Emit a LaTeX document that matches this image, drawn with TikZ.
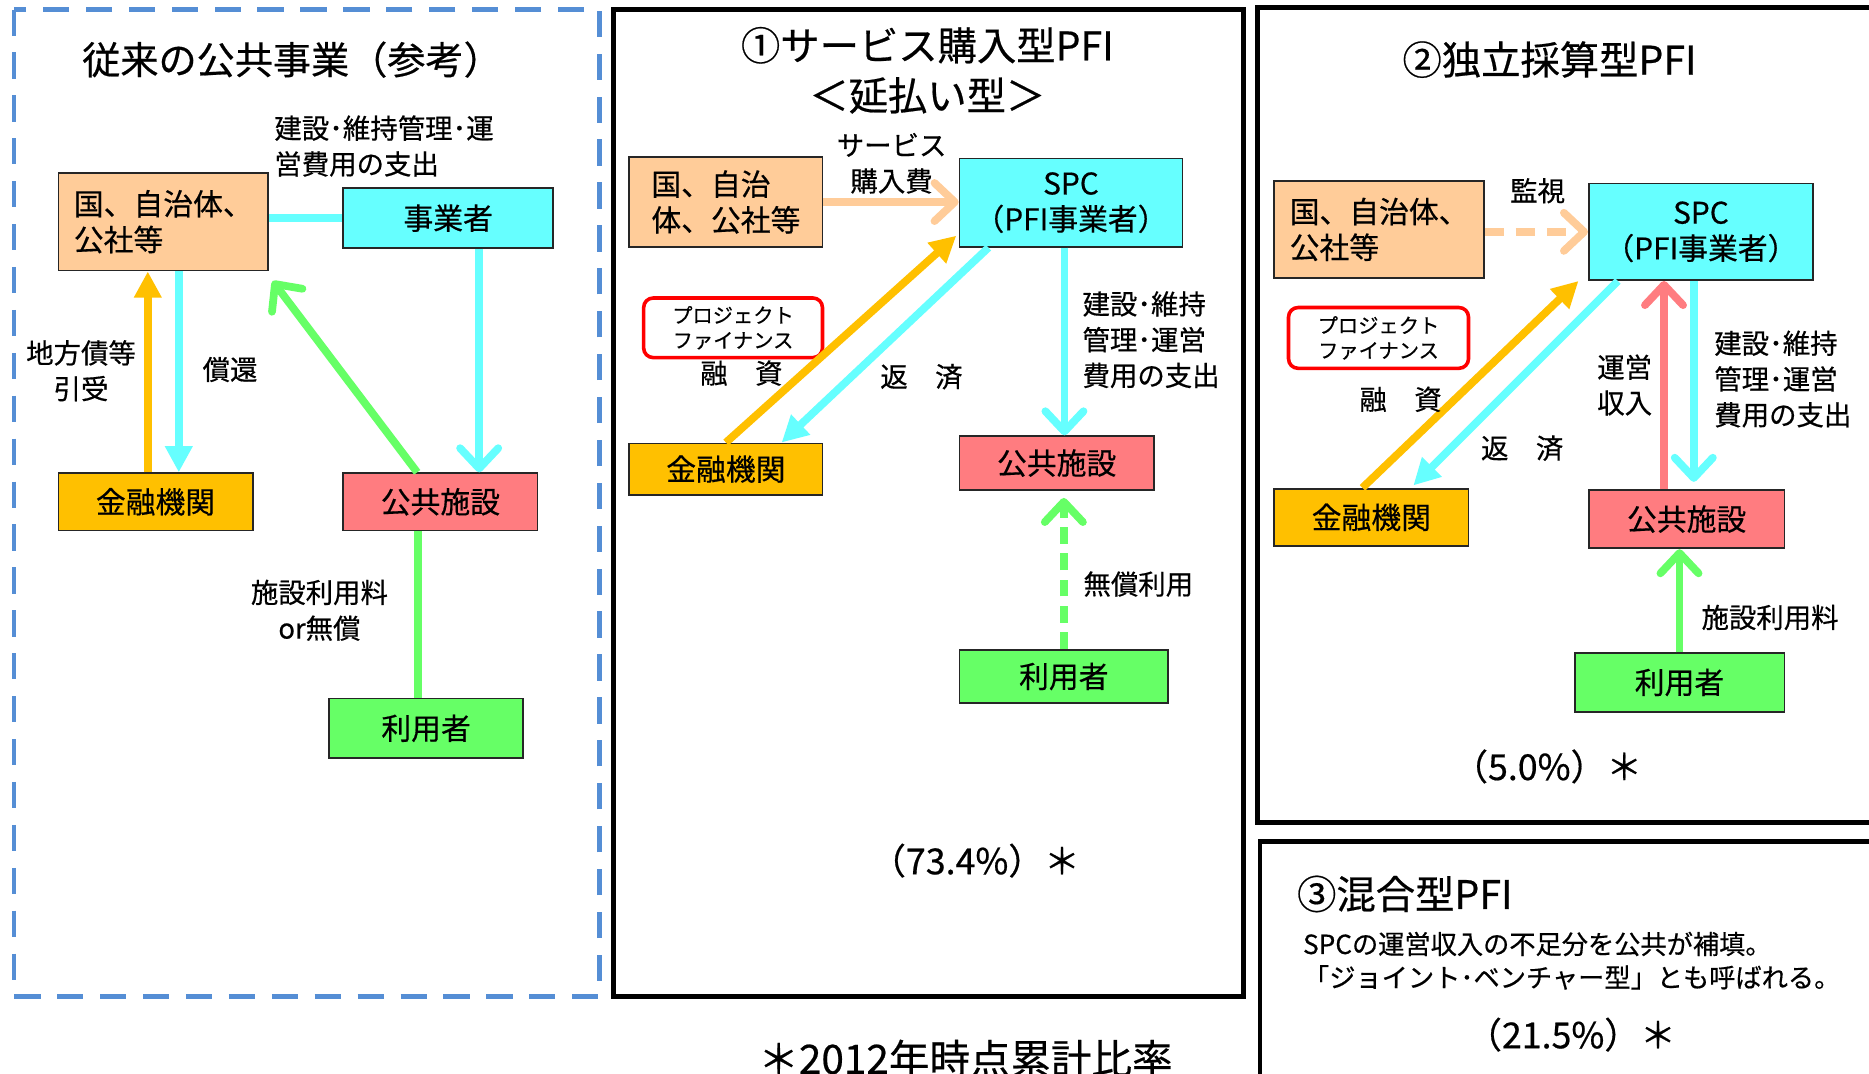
\documentclass[tikz,border=0pt]{standalone}
\usepackage{fontspec}
\setmainfont{Noto Sans CJK JP}[FakeBold=0.5]
\usetikzlibrary{arrows.meta}

\definecolor{govfill}{HTML}{FFCC99}
\definecolor{spcfill}{HTML}{66FFFF}
\definecolor{bankfill}{HTML}{FFC000}
\definecolor{facfill}{HTML}{FF7C80}
\definecolor{userfill}{HTML}{66FF66}
\definecolor{dashblue}{HTML}{558ED5}

\tikzset{
  box/.style={draw=black!85, line width=1.5pt, inner sep=0pt, font=\fontsize{25}{30}\selectfont, align=center},
  govbox/.style={box, fill=govfill, align=left},
  spcbox/.style={box, fill=spcfill},
  bankbox/.style={box, fill=bankfill},
  facbox/.style={box, fill=facfill},
  userbox/.style={box, fill=userfill},
  pfbox/.style={draw=red, line width=3pt, rounded corners=8pt, fill=white, inner sep=0pt,
    font=\fontsize{17}{21}\selectfont, align=center},
  lbl/.style={inner sep=0pt, font=\fontsize{23}{30}\selectfont, align=center},
  ttl/.style={inner sep=0pt, font=\fontsize{33}{42}\selectfont, align=center},
  pct/.style={inner sep=0pt, font=\fontsize{30}{36}\selectfont},
  frame/.style={line width=4pt},
  flow/.style={line width=6.5pt},
  solidhead/.style={-{Triangle[length=22pt,width=22pt]}},
  openhead/.style={-{Straight Barb[length=17pt,width=32pt,round]}},
}

\begin{document}
\begin{tikzpicture}[x=1pt, y=-1pt]
\useasboundingbox (0,0) rectangle (1568,901);
\clip (0,0) rectangle (1568,901);
\fill[white] (0,0) rectangle (1568,901);

% Panel 0: conventional
\draw[dashblue, line width=3.5pt, dash pattern=on 22pt off 14pt] (12,8) rectangle (503,836);
\node[ttl, font=\fontsize{32}{40}\selectfont] (title0) at (245,50) {従来の公共事業（参考）};

\node[govbox, minimum width=176pt, minimum height=82pt] (gov0) at (137,186) {国、自治体、\\公社等};
\node[spcbox, minimum width=176pt, minimum height=50pt] (biz0) at (376,183) {事業者};
\node[bankbox, minimum width=163pt, minimum height=48pt] (bank0) at (130.5,421) {金融機関};
\node[facbox, minimum width=163pt, minimum height=48pt] (fac0) at (369.5,421) {公共施設};
\node[userbox, minimum width=163pt, minimum height=50pt] (user0) at (357.5,611) {利用者};

\draw[flow, spcfill] (biz0.west -| gov0.east) -- (biz0.west);
\draw[flow, bankfill, solidhead] ([xshift=-6.5pt]bank0.north) -- ([xshift=-6.5pt]bank0.north |- gov0.south);
\draw[flow, spcfill, solidhead] ([xshift=19.5pt]bank0.north |- gov0.south) -- ([xshift=19.5pt]bank0.north);
\draw[flow, spcfill, openhead] ([xshift=26pt]biz0.south) -- ([xshift=26pt]biz0.south |- fac0.north);
\draw[flow, userfill, openhead] ([xshift=-19.5pt]fac0.north) -- ([shift={(3,8)}]gov0.south east);
\draw[flow, userfill] ([xshift=-19pt]fac0.south) -- ([xshift=-19pt]fac0.south |- user0.north);

\node[lbl, anchor=west, align=left] (cost0) at (230,122.5) {建設･維持管理･運\\営費用の支出};
\node[lbl] (bond0) at (68,311) {地方債等\\引受};
\node[lbl] (repay0) at (193,310) {償還};
\node[lbl] (fee0) at (268,512) {施設利用料\\or無償};

% Panel 1: service purchase
\draw[frame] (515,8) rectangle (1043,836);
\node[ttl] (title1) at (778,59) {①サービス購入型PFI\\＜延払い型＞};

\node[govbox, minimum width=162pt, minimum height=75pt] (gov1) at (609,169.5) {国、自治\\体、公社等};
\node[spcbox, minimum width=187pt, minimum height=74pt] (spc1) at (898.5,170) {SPC\\（PFI事業者）};
\node[pfbox, minimum width=150pt, minimum height=50pt] (pf1) at (615,275) {プロジェクト\\ファイナンス};
\node[bankbox, minimum width=162pt, minimum height=43pt] (bank1) at (609,393.5) {金融機関};
\node[facbox, minimum width=163pt, minimum height=45pt] (fac1) at (886.5,388.5) {公共施設};
\node[userbox, minimum width=175pt, minimum height=45pt] (user1) at (892.5,567.5) {利用者};

\draw[flow, govfill, openhead] (gov1.east) -- (gov1.east -| spc1.west);
\draw[flow, bankfill, solidhead] (bank1.north) -- ([shift={(-2,-10)}]spc1.south west);
\draw[flow, spcfill, solidhead] ([xshift=25pt]spc1.south west) -- ([xshift=-35pt]bank1.north east);
\draw[flow, spcfill, openhead] ([xshift=-5.5pt]spc1.south) -- ([xshift=-5.5pt]spc1.south |- fac1.north);
\draw[flow, userfill, openhead, dash pattern=on 14pt off 8pt, shorten >=6pt] (user1.north) -- (user1.north |- fac1.south);

\node[lbl] (buy1) at (748,137) {サービス\\購入費};
\node[lbl] (loan1) at (622,313) {融　資};
\node[lbl] (repay1) at (773,316) {返　済};
\node[lbl, anchor=west, align=left] (cost1) at (908,285) {建設･維持\\管理･運営\\費用の支出};
\node[lbl] (free1) at (955,490) {無償利用};
\node[pct] (pct1) at (818,722) {（73.4\%）＊};

\node[ttl, font=\fontsize{34}{40}\selectfont] (note) at (810,888) {＊2012年時点累計比率};

% Panel 2: self-supporting
\draw[frame] (1055,6) rectangle (1600,690);
\node[ttl] (title2) at (1300,50) {②独立採算型PFI};

\node[govbox, minimum width=176pt, minimum height=81pt] (gov2) at (1157,192.5) {国、自治体、\\公社等};
\node[spcbox, minimum width=188pt, minimum height=81pt] (spc2) at (1427,194.5) {SPC\\（PFI事業者）};
\node[pfbox, minimum width=151pt, minimum height=51pt] (pf2) at (1156.5,283.5) {プロジェクト\\ファイナンス};
\node[bankbox, minimum width=163pt, minimum height=48pt] (bank2) at (1150.5,434) {金融機関};
\node[facbox, minimum width=164pt, minimum height=49pt] (fac2) at (1415,435.5) {公共施設};
\node[userbox, minimum width=176pt, minimum height=49pt] (user2) at (1409,572.5) {利用者};

\draw[flow, govfill, openhead, dash pattern=on 16pt off 10pt] (spc2.west -| gov2.east) -- (spc2.west);
\draw[flow, bankfill, solidhead] ([xshift=-7.5pt]bank2.north) -- ([xshift=-8pt]spc2.south west);
\draw[flow, spcfill, solidhead] ([xshift=25pt]spc2.south west) -- ([shift={(-47,-2)}]bank2.north east);
\draw[flow, facfill, openhead] ([xshift=-19pt]fac2.north) -- ([xshift=-19pt]fac2.north |- spc2.south);
\draw[flow, spcfill, openhead, shorten >=6pt] ([xshift=-6pt]spc2.south) -- ([xshift=-6pt]spc2.south |- fac2.north);
\draw[flow, userfill, openhead] (user2.north) -- (user2.north |- fac2.south);

\node[lbl] (watch2) at (1290,160) {監視};
\node[lbl] (loan2) at (1175,335) {融　資};
\node[lbl] (repay2) at (1277,376) {返　済};
\node[lbl] (income2) at (1363,323) {運営\\収入};
\node[lbl, anchor=west, align=left] (cost2) at (1438,318) {建設･維持\\管理･運営\\費用の支出};
\node[lbl] (fee2) at (1485,518) {施設利用料};
\node[pct] (pct2) at (1298,643) {（5.0\%）＊};

% Panel 3: mixed
\draw[frame] (1057,706) rectangle (1600,950);
\node[ttl, anchor=west] (title3) at (1088,750) {③混合型PFI};
\node[lbl, anchor=west, align=left, font=\fontsize{22}{28}\selectfont] (desc3) at (1093,806) {SPCの運営収入の不足分を公共が補填。\\「ジョイント･ベンチャー型」とも呼ばれる。};
\node[pct] (pct3) at (1318,868) {（21.5\%）＊};
\end{tikzpicture}
\end{document}
